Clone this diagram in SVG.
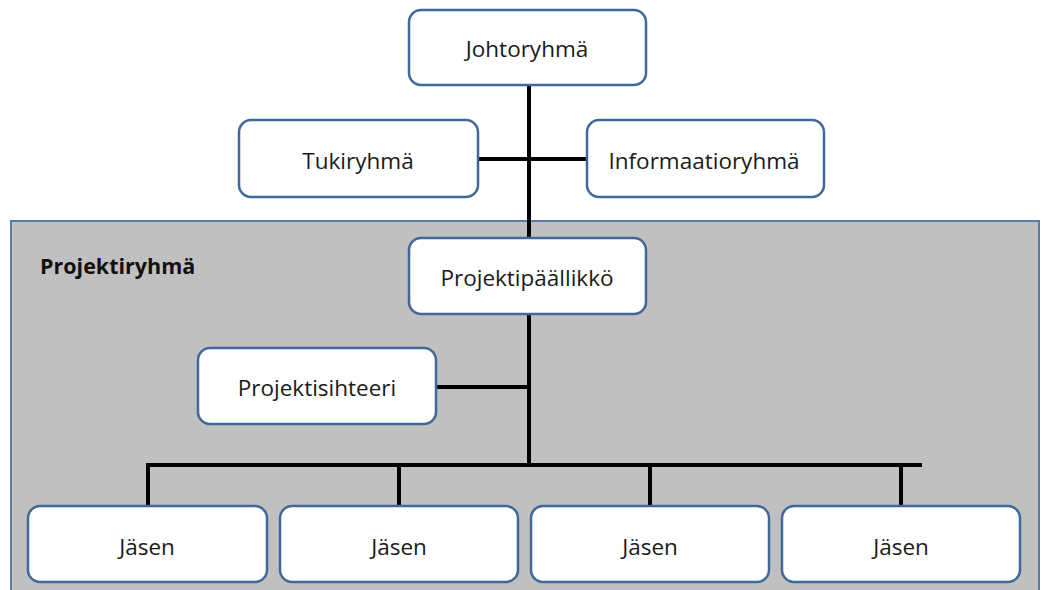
<svg xmlns="http://www.w3.org/2000/svg" width="1043" height="590" viewBox="0 0 1043 590">
<style>
.box{fill:#fff;stroke:#41689a;stroke-width:2.5}
.t{font-family:"Open Sans","Liberation Sans",sans-serif;font-size:22.5px;fill:#1a1a1a;text-anchor:middle;dominant-baseline:central}
.c{stroke:#000;stroke-width:4;fill:none}
</style>
<rect width="1043" height="590" fill="#fff"/>
<g id="panel">
<rect x="11" y="221" width="1028" height="375" fill="#c0c0c0" stroke="#5a7aa8" stroke-width="2"/>
<text x="40" y="265" font-family="'Open Sans','Liberation Sans',sans-serif" font-size="21.5" font-weight="bold" fill="#111" dominant-baseline="central">Projektiryhmä</text>
</g>
<g id="connectors">
<path class="c" d="M529 85V238M478 159H587M529 314V465M436 387H529M148 465H922M148 463V506M399 463V506M650 463V506M901 463V506"/>
</g>
<g id="johtoryhma"><rect class="box" x="409" y="10" width="237" height="75" rx="12"/><text class="t" x="527" y="48">Johtoryhmä</text></g>
<g id="tukiryhma"><rect class="box" x="239" y="120" width="239" height="77" rx="12"/><text class="t" x="358" y="160">Tukiryhmä</text></g>
<g id="informaatioryhma"><rect class="box" x="587" y="120" width="237" height="77" rx="12"/><text class="t" x="704" y="160">Informaatioryhmä</text></g>
<g id="projektipaallikko"><rect class="box" x="409" y="238" width="237" height="76" rx="12"/><text class="t" x="527" y="277">Projektipäällikkö</text></g>
<g id="projektisihteeri"><rect class="box" x="198" y="348" width="238" height="76" rx="12"/><text class="t" x="317" y="387">Projektisihteeri</text></g>
<g id="jasen1"><rect class="box" x="28" y="506" width="239" height="76" rx="12"/><text class="t" x="147" y="546">Jäsen</text></g>
<g id="jasen2"><rect class="box" x="280" y="506" width="238" height="76" rx="12"/><text class="t" x="399" y="546">Jäsen</text></g>
<g id="jasen3"><rect class="box" x="531" y="506" width="238" height="76" rx="12"/><text class="t" x="650" y="546">Jäsen</text></g>
<g id="jasen4"><rect class="box" x="782" y="506" width="238" height="76" rx="12"/><text class="t" x="901" y="546">Jäsen</text></g>
</svg>
